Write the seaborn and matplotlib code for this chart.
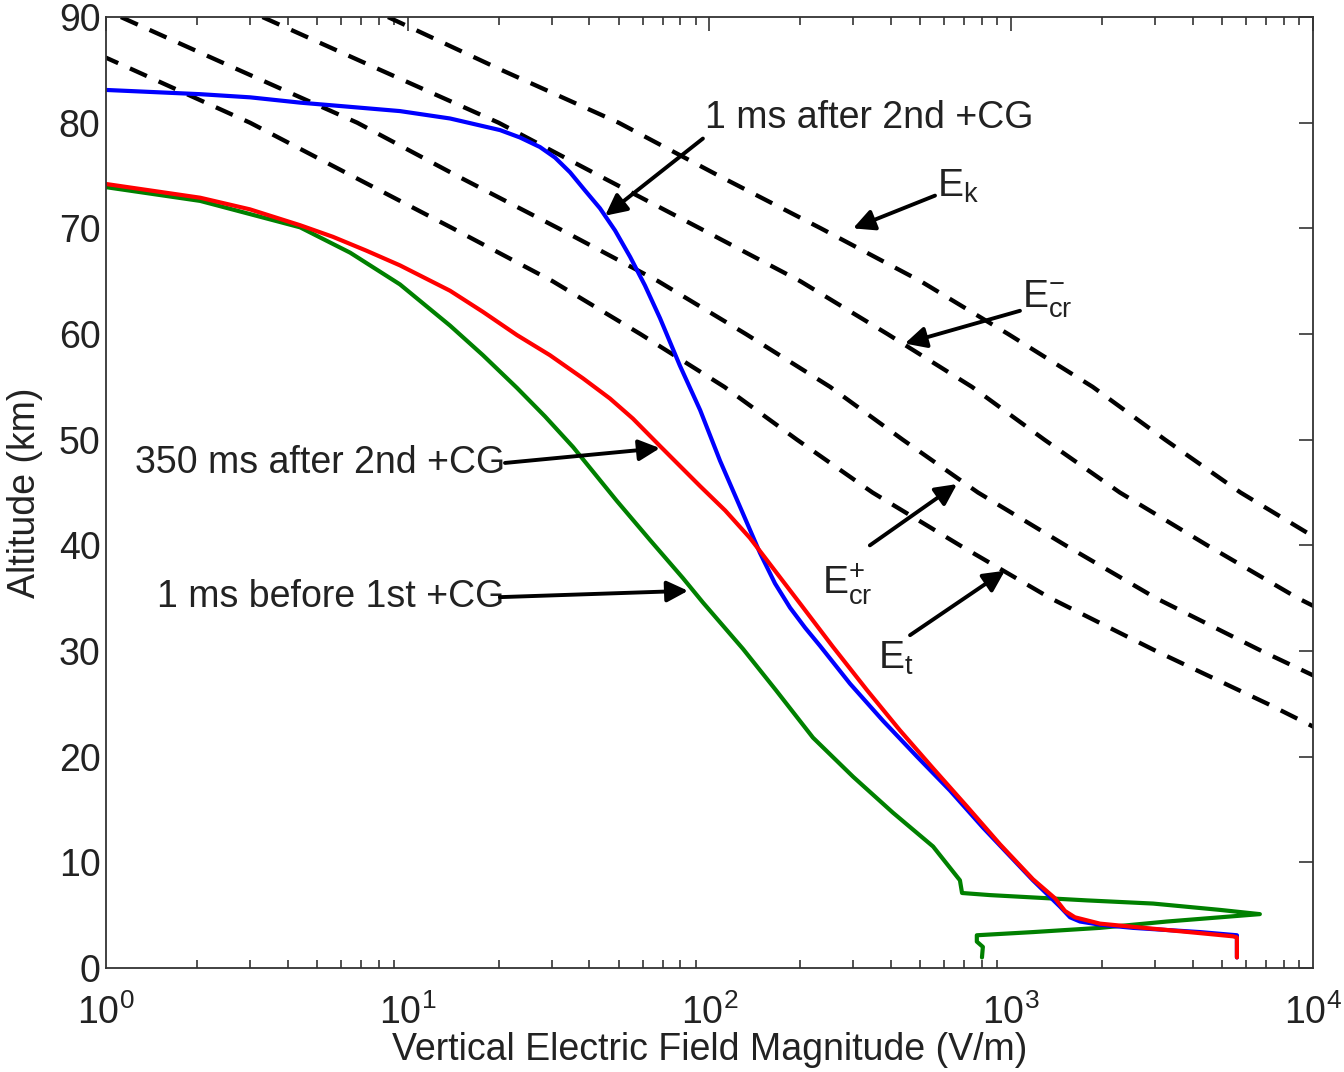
import numpy as np
import pandas as pd
import matplotlib
matplotlib.use("Agg")
import matplotlib.pyplot as plt
import seaborn as sns

# ---------------- data ----------------
# threshold fields (dashed lines), altitude in km, field in V/m
thr_alt = [90, 85, 80, 75, 70, 65, 60, 55, 50, 45, 40, 35, 30, 25, 20]
E_k = [8.6, 20.4, 50, 107, 234, 501, 977, 1862, 3236, 5754, 11220, 22390, 50120, 117500, 263000]
E_cr_minus = [3.3, 8.1, 20, 43, 93, 200, 389, 741, 1288, 2291, 4467, 8913, 19950, 46770, 104700]
E_cr_plus = [1.12, 2.75, 6.8, 14.5, 31.6, 67.6, 132, 251, 437, 776, 1514, 3020, 6761, 15850, 35480]
E_t = [0.50, 1.23, 3.0, 6.5, 14.1, 30.2, 59, 112, 195, 347, 676, 1349, 3020, 7079, 15850]

# 1 ms after 2nd +CG (blue): log10(E) and altitude (km)
blue_log = [0.000, 0.312, 0.478, 0.643, 0.809, 0.974, 1.140, 1.306, 1.372, 1.438, 1.488,
            1.538, 1.587, 1.637, 1.687, 1.737, 1.786, 1.836, 1.902, 1.969, 2.035, 2.111,
            2.167, 2.217, 2.267, 2.317, 2.366, 2.466, 2.575, 2.688, 2.797, 2.906, 3.072,
            3.162, 3.195, 3.228, 3.294, 3.403, 3.626, 3.748, 3.748]
blue_alt = [83.1, 82.7, 82.4, 81.9, 81.5, 81.1, 80.4, 79.3, 78.6, 77.7, 76.7,
            75.3, 73.6, 71.9, 69.8, 67.3, 64.6, 61.5, 57.0, 52.8, 48.0, 43.0,
            39.3, 36.4, 34.1, 32.2, 30.5, 26.9, 23.4, 20.0, 16.8, 13.3, 8.3,
            5.8, 4.8, 4.4, 4.1, 3.8, 3.4, 3.1, 1.0]

# 350 ms after 2nd +CG (red)
red_log = [0.000, 0.312, 0.477, 0.643, 0.752, 0.862, 0.974, 1.140, 1.249, 1.362, 1.471, 1.581,
           1.670, 1.746, 1.836, 1.969, 2.052, 2.134, 2.217, 2.300, 2.409, 2.522, 2.631,
           2.741, 2.853, 2.963, 3.072, 3.145, 3.178, 3.211, 3.294, 3.403, 3.626, 3.735,
           3.748, 3.748]
red_alt = [74.2, 72.9, 71.8, 70.3, 69.2, 67.9, 66.5, 64.1, 62.1, 59.9, 58.0, 55.8,
           53.9, 52.0, 49.4, 45.6, 43.3, 40.7, 37.6, 34.5, 30.4, 26.3, 22.5,
           18.9, 15.3, 11.7, 8.4, 6.6, 5.4, 4.8, 4.2, 3.9, 3.3, 3.0,
           2.9, 1.0]

# 1 ms before 1st +CG (green)
green_log = [0.000, 0.312, 0.643, 0.809, 0.974, 1.140, 1.249, 1.362, 1.455, 1.548, 1.693,
             1.803, 1.912, 1.978, 2.111, 2.220, 2.343, 2.476, 2.608, 2.741, 2.830,
             2.837, 2.930, 3.251, 3.470, 3.692, 3.824, 3.692, 3.516, 3.294, 3.072, 2.886,
             2.886, 2.906, 2.903]
green_alt = [73.9, 72.6, 70.1, 67.7, 64.7, 60.8, 58.0, 54.9, 52.2, 49.3, 44.2,
             40.5, 36.9, 34.6, 30.2, 26.3, 21.8, 18.1, 14.7, 11.5, 8.3,
             7.1, 6.9, 6.4, 6.1, 5.5, 5.1, 4.8, 4.4, 3.8, 3.4, 3.1,
             2.5, 2.0, 1.0]

x_ticks = [1, 10, 100, 1000, 10000]
y_ticks = [0, 10, 20, 30, 40, 50, 60, 70, 80, 90]

# ---------------- figure ----------------
sns.set_style("white")
plt.rcParams["font.family"] = ["Liberation Sans", "DejaVu Sans"]
plt.rcParams["mathtext.fontset"] = "custom"
plt.rcParams["mathtext.rm"] = "Liberation Sans"
plt.rcParams["mathtext.it"] = "Liberation Sans"

fig = plt.figure(figsize=(13.44, 10.72), dpi=100)
ax = fig.add_axes([0.0789, 0.097, 0.8980, 0.8871])

dash = (0, (4.3, 3.0))
for series in (E_k, E_cr_minus, E_cr_plus, E_t):
    df = pd.DataFrame({"E": series, "alt": thr_alt})
    sns.lineplot(data=df, x="E", y="alt", sort=False, estimator=None, ax=ax,
                 color="black", lw=3.1, linestyle=dash)

for lg, al, col in ((green_log, green_alt, "#008000"),
                    (blue_log, blue_alt, "#0000ff"),
                    (red_log, red_alt, "#ff0000")):
    df = pd.DataFrame({"E": np.power(10.0, lg), "alt": al})
    sns.lineplot(data=df, x="E", y="alt", sort=False, estimator=None, ax=ax,
                 color=col, lw=3.0)

ax.set_xscale("log")
ax.set_xlim(1, 1e4)
ax.set_ylim(0, 90)
ax.set_xticks(x_ticks)
ax.set_yticks(y_ticks)
ax.tick_params(axis="both", which="major", direction="in", length=10, width=1.2,
               labelsize=27, top=True, right=True, colors="#333333",
               labelcolor="#222222")
ax.tick_params(axis="y", which="major", pad=4)
ax.tick_params(axis="x", which="major", pad=19)
ax.tick_params(axis="x", which="minor", direction="in", length=6, width=1.2,
               top=True, bottom=True, colors="#333333")
ax.tick_params(axis="y", which="minor", left=False, right=False)
for sp in ax.spines.values():
    sp.set_color("#333333")
    sp.set_linewidth(1.3)

ax.set_xlabel("Vertical Electric Field Magnitude (V/m)", fontsize=27, color="#222222")
ax.set_ylabel("Altitude (km)", fontsize=27, color="#222222")
ax.xaxis.set_label_coords(0.5, -0.0862)
ax.xaxis.label.set_va("center")
ax.yaxis.set_label_coords(-0.0670, 0.5)
ax.yaxis.label.set_va("center")

fs = 27
tc = "#222222"
ap = dict(arrowstyle="-|>", color="black", lw=2.8, mutation_scale=32, shrinkA=0, shrinkB=0)

ax.text(96.6, 80.4, "1 ms after 2nd +CG", fontsize=fs, color=tc, va="center", ha="left")
ax.annotate("", xy=(45.1, 71.2), xytext=(95.1, 78.5), arrowprops=ap)

ax.text(567, 74.0, r"E$_{\mathrm{k}}$", fontsize=fs + 1, color=tc, va="center", ha="left")
ax.annotate("", xy=(299, 70.0), xytext=(559, 73.1), arrowprops=ap)

ax.text(1086, 63.3, r"E$^{-}_{\mathrm{cr}}$", fontsize=fs + 1, color=tc, va="center", ha="left")
ax.annotate("", xy=(444, 59.1), xytext=(1069, 62.2), arrowprops=ap)

ax.text(1.25, 47.8, "350 ms after 2nd +CG", fontsize=fs, color=tc, va="center", ha="left")
ax.annotate("", xy=(68.5, 49.2), xytext=(21.0, 47.8), arrowprops=ap)

ax.text(236, 36.3, r"E$^{+}_{\mathrm{cr}}$", fontsize=fs + 1, color=tc, va="center", ha="left")
ax.annotate("", xy=(661, 45.8), xytext=(340, 40.0), arrowprops=ap)

ax.text(1.48, 35.1, "1 ms before 1st +CG", fontsize=fs, color=tc, va="center", ha="left")
ax.annotate("", xy=(84.9, 35.7), xytext=(20.2, 35.1), arrowprops=ap)

ax.text(362, 29.3, r"E$_{\mathrm{t}}$", fontsize=fs + 1, color=tc, va="center", ha="left")
ax.annotate("", xy=(953, 37.6), xytext=(462, 31.5), arrowprops=ap)

fig.savefig("out.png", dpi=100)
